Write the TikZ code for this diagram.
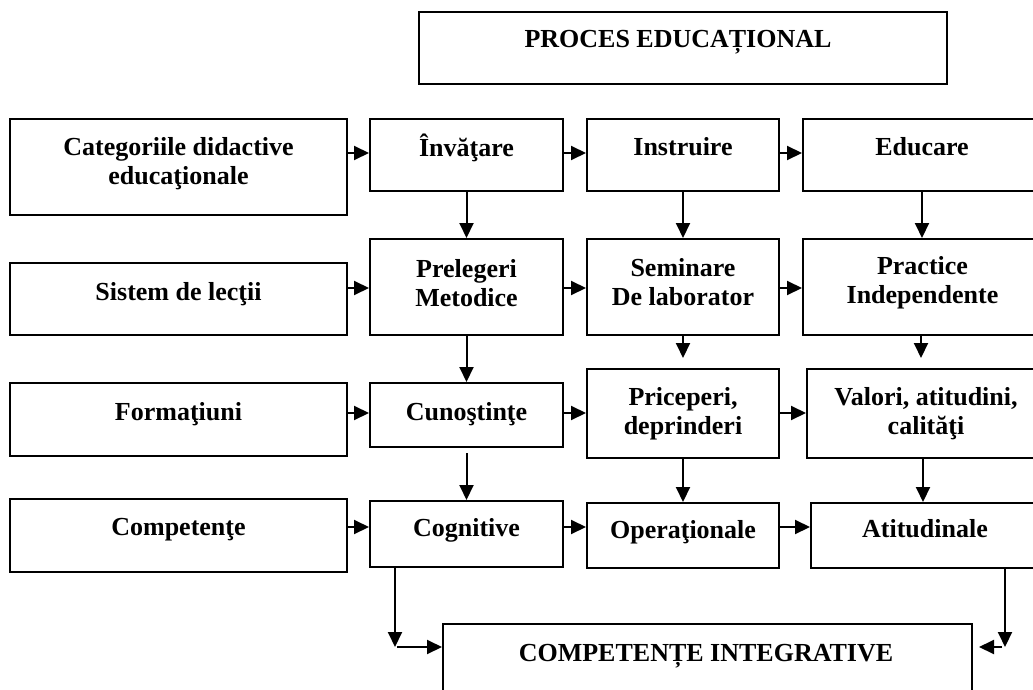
\documentclass[tikz,border=0pt]{standalone}
\usepackage{fontspec}
\setmainfont{Liberation Serif}
\usetikzlibrary{arrows.meta}
\tikzset{
  box/.style={draw, line width=2pt, inner sep=0pt, anchor=center},
  lbl/.style={font=\bfseries\fontsize{26}{29}\selectfont, align=center, inner sep=0pt},
  arr/.style={line width=2pt, -{Triangle[length=15pt,width=14pt]}},
}
\begin{document}
\begin{tikzpicture}[x=1pt,y=-1pt]
\useasboundingbox (0,0) rectangle (1033,690);
\clip (0,0) rectangle (1033,690);
% boxes
\node[box, minimum width=528pt, minimum height=72pt] (top) at (683,48) {};
\node[box, minimum width=337pt, minimum height=96pt] (cat) at (178.5,167) {};
\node[box, minimum width=193pt, minimum height=72pt] (inv) at (466.5,155) {};
\node[box, minimum width=192pt, minimum height=72pt] (ins) at (683,155) {};
\node[box, minimum width=238pt, minimum height=72pt] (edu) at (922,155) {};
\node[box, minimum width=337pt, minimum height=72pt] (sis) at (178.5,299) {};
\node[box, minimum width=193pt, minimum height=96pt] (pre) at (466.5,287) {};
\node[box, minimum width=192pt, minimum height=96pt] (sem) at (683,287) {};
\node[box, minimum width=239pt, minimum height=96pt] (pra) at (922.5,287) {};
\node[box, minimum width=337pt, minimum height=73pt] (for) at (178.5,419.5) {};
\node[box, minimum width=193pt, minimum height=64pt] (cun) at (466.5,415) {};
\node[box, minimum width=192pt, minimum height=89pt] (pri) at (683,413.5) {};
\node[box, minimum width=238pt, minimum height=89pt] (val) at (926,413.5) {};
\node[box, minimum width=337pt, minimum height=73pt] (com) at (178.5,535.5) {};
\node[box, minimum width=193pt, minimum height=66pt] (cog) at (466.5,534) {};
\node[box, minimum width=192pt, minimum height=65pt] (ope) at (683,535.5) {};
\node[box, minimum width=228pt, minimum height=65pt] (ati) at (925,535.5) {};
\node[box, minimum width=529pt, minimum height=112pt] (ci) at (707.5,680) {};
% texts
\node[lbl, anchor=base] (ttop) at (678,48) {PROCES EDUCAȚIONAL};
\node[lbl] (tcat) at (178.5,164) {Categoriile didactive\\educaţionale};
\node[lbl, anchor=base] (tinv) at (466.5,157) {Învăţare};
\node[lbl, anchor=base] (tins) at (683,156) {Instruire};
\node[lbl, anchor=base] (tedu) at (922,156) {Educare};
\node[lbl, anchor=base] (tsis) at (178.5,300) {Sistem de lecţii};
\node[lbl] (tpre) at (466.5,283) {Prelegeri\\Metodice};
\node[lbl] (tsem) at (683,282) {Seminare\\De laborator};
\node[lbl] (tpra) at (922.5,283) {Practice\\Independente};
\node[lbl, anchor=base] (tfor) at (178.5,420) {Formaţiuni};
\node[lbl, anchor=base] (tcun) at (466.5,420) {Cunoştinţe};
\node[lbl] (tpri) at (683,414) {Priceperi,\\deprinderi};
\node[lbl] (tval) at (926,413.5) {Valori, atitudini,\\calităţi};
\node[lbl, anchor=base] (tcom) at (178.5,535) {Competenţe};
\node[lbl, anchor=base] (tcog) at (466.5,536) {Cognitive};
\node[lbl, anchor=base] (tope) at (683,538) {Operaţionale};
\node[lbl, anchor=base] (tati) at (925,537) {Atitudinale};
\node[lbl, anchor=base] (tci) at (706,661) {COMPETENȚE INTEGRATIVE};
% row reference coordinates
\coordinate (r1) at (0,153);
\coordinate (r2) at (0,288);
\coordinate (r3) at (0,413);
\coordinate (r4) at (0,527);
\coordinate (g2) at (0,358);
\coordinate (x7) at (921,0);
\coordinate (x8) at (923,0);
% horizontal arrows
\draw[arr] (cat.east |- r1) -- (inv.west |- r1);
\draw[arr] (inv.east |- r1) -- (ins.west |- r1);
\draw[arr] (ins.east |- r1) -- (edu.west |- r1);
\draw[arr] (sis.east |- r2) -- (pre.west |- r2);
\draw[arr] (pre.east |- r2) -- (sem.west |- r2);
\draw[arr] (sem.east |- r2) -- (pra.west |- r2);
\draw[arr] (for.east |- r3) -- (cun.west |- r3);
\draw[arr] (cun.east |- r3) -- (pri.west |- r3);
\draw[arr] (pri.east |- r3) -- (val.west |- r3);
\draw[arr] (com.east |- r4) -- (cog.west |- r4);
\draw[arr] (cog.east |- r4) -- (ope.west |- r4);
\draw[arr] (ope.east |- r4) -- (ati.west |- r4);
% vertical arrows
\draw[arr] (inv.south) -- (pre.north);
\draw[arr] (ins.south) -- (sem.north);
\draw[arr] (edu.south) -- (edu.south |- pra.north);
\draw[arr] (pre.south) -- (cun.north);
\draw[arr] (sem.south) -- (sem.south |- g2);
\draw[arr] (x7 |- pra.south) -- (x7 |- g2);
\draw[arr] ([yshift=-5pt]cun.south) -- (cog.north);
\draw[arr] (pri.south) -- (ope.north);
\draw[arr] (x8 |- val.south) -- (x8 |- ati.north);
% to integrative competences
\coordinate (c1) at (395,647);
\coordinate (c2) at (1005,647);
\coordinate (c3) at (979,647);
\draw[arr] (cog.south -| c1) -- (c1);
\draw[arr] ([xshift=2pt]c1) -- (c1 -| ci.west);
\draw[arr] (ati.south -| c2) -- (c2);
\draw[arr] ([xshift=-3pt]c2) -- (c3);
\end{tikzpicture}
\end{document}
